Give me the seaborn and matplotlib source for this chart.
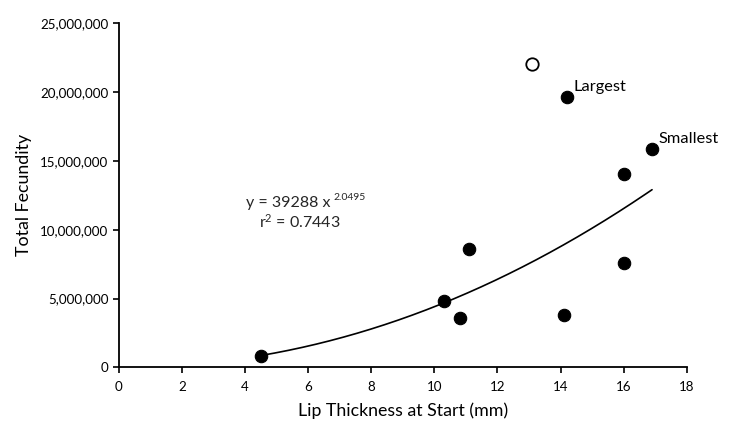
import numpy as np
import pandas as pd
import matplotlib
matplotlib.use("Agg")
import matplotlib.pyplot as plt
import seaborn as sns
from matplotlib.ticker import FuncFormatter

# Data
lip_thickness = [4.5, 10.3, 10.8, 11.1, 14.1, 16.0, 16.0, 16.9, 14.2]
fecundity = [840000, 4820000, 3560000, 8570000, 3800000, 7560000, 14030000, 15840000, 19640000]
outlier_x = [13.1]
outlier_y = [22020000]
point_labels = {"Largest": (14.2, 19640000), "Smallest": (16.9, 15840000)}
fit_a = 39288
fit_b = 2.0495
fit_r2 = 0.7443
x_ticks = [0, 2, 4, 6, 8, 10, 12, 14, 16, 18]
y_ticks = [0, 5000000, 10000000, 15000000, 20000000, 25000000]

sns.set_theme(style="white")
plt.rcParams["font.family"] = ["Lato", "DejaVu Sans"]
plt.rcParams["mathtext.fontset"] = "custom"
plt.rcParams["mathtext.rm"] = "Lato"
plt.rcParams["mathtext.it"] = "Lato"
plt.rcParams["mathtext.default"] = "regular"

fig = plt.figure(figsize=(7.34, 4.22), dpi=100)
ax = fig.add_axes([0.162, 0.1296, 0.7736, 0.8152])

df = pd.DataFrame({"x": lip_thickness, "y": fecundity})
sns.scatterplot(data=df, x="x", y="y", ax=ax, color="black", s=80,
                edgecolor="black", linewidth=0.8, zorder=3)
sns.scatterplot(x=outlier_x, y=outlier_y, ax=ax, color="white", s=80,
                edgecolor="black", linewidth=1.3, zorder=3)

xs = np.linspace(min(lip_thickness), max(lip_thickness), 200)
sns.lineplot(x=xs, y=fit_a * xs ** fit_b, ax=ax, color="black", linewidth=1.2, zorder=2)

for name, (px, py) in point_labels.items():
    ax.annotate(name, (px, py), xytext=(5, 4.5), textcoords="offset points",
                fontsize=11.8, color="black", ha="left", va="baseline")

eq = ax.text(4.03, 11940000, f"y = {fit_a} x", fontsize=11.5, ha="left", va="center")
ax.annotate(f"{fit_b}", xy=(1, 0.55), xycoords=eq, xytext=(2, 0),
            textcoords="offset points", fontsize=7.5, ha="left", va="bottom")
ax.text(5.74, 10560000, f"r$^{{2}}$ = {fit_r2}", fontsize=11.5, ha="center", va="center")

ax.set_xlim(0, 18)
ax.set_ylim(0, 25000000)
ax.set_xticks(x_ticks)
ax.set_yticks(y_ticks)
ax.yaxis.set_major_formatter(FuncFormatter(lambda v, p: f"{int(v):,}"))
ax.set_xlabel("Lip Thickness at Start (mm)", fontsize=12.8, color="black", labelpad=7)
ax.set_ylabel("Total Fecundity", fontsize=12.8, color="black", labelpad=6)

for side in ["top", "right"]:
    ax.spines[side].set_visible(False)
for side in ["left", "bottom"]:
    ax.spines[side].set_color("black")
    ax.spines[side].set_linewidth(1.3)
ax.tick_params(axis="both", which="major", direction="out", length=4, width=1.2,
               color="black", labelsize=9.6, labelcolor="black", bottom=True, left=True)
ax.tick_params(axis="x", pad=6)
ax.grid(False)

fig.savefig("out.png", dpi=100)
